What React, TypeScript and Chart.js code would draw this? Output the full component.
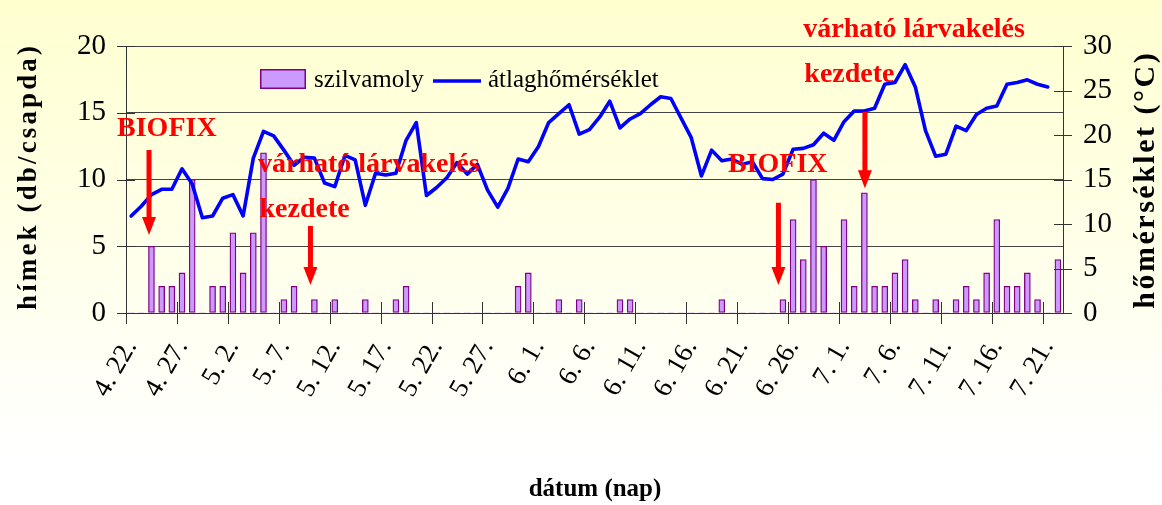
import React, { useEffect, useRef } from "react";
import { Chart, registerables } from "chart.js";

Chart.register(...registerables);

const categories = [
  "4. 22.", "4. 23.", "4. 24.", "4. 25.", "4. 26.", "4. 27.", "4. 28.", "4. 29.", "4. 30.",
  "5. 1.", "5. 2.", "5. 3.", "5. 4.", "5. 5.", "5. 6.", "5. 7.", "5. 8.", "5. 9.", "5. 10.",
  "5. 11.", "5. 12.", "5. 13.", "5. 14.", "5. 15.", "5. 16.", "5. 17.", "5. 18.", "5. 19.", "5. 20.",
  "5. 21.", "5. 22.", "5. 23.", "5. 24.", "5. 25.", "5. 26.", "5. 27.", "5. 28.", "5. 29.", "5. 30.", "5. 31.",
  "6. 1.", "6. 2.", "6. 3.", "6. 4.", "6. 5.", "6. 6.", "6. 7.", "6. 8.", "6. 9.", "6. 10.",
  "6. 11.", "6. 12.", "6. 13.", "6. 14.", "6. 15.", "6. 16.", "6. 17.", "6. 18.", "6. 19.", "6. 20.",
  "6. 21.", "6. 22.", "6. 23.", "6. 24.", "6. 25.", "6. 26.", "6. 27.", "6. 28.", "6. 29.", "6. 30.",
  "7. 1.", "7. 2.", "7. 3.", "7. 4.", "7. 5.", "7. 6.", "7. 7.", "7. 8.", "7. 9.", "7. 10.",
  "7. 11.", "7. 12.", "7. 13.", "7. 14.", "7. 15.", "7. 16.", "7. 17.", "7. 18.", "7. 19.", "7. 20.",
  "7. 21.", "7. 22."
];

// szilvamoly hímek (db/csapda)
const szilvamoly = [
  0, 0, 5, 2, 2, 3, 10, 0, 2, 2,
  6, 3, 6, 12, 0, 1, 2, 0, 1, 0,
  1, 0, 0, 1, 0, 0, 1, 2, 0, 0,
  0, 0, 0, 0, 0, 0, 0, 0, 2, 3,
  0, 0, 1, 0, 1, 0, 0, 0, 1, 1,
  0, 0, 0, 0, 0, 0, 0, 0, 1, 0,
  0, 0, 0, 0, 1, 7, 4, 10, 5, 0,
  7, 2, 9, 2, 2, 3, 4, 1, 0, 1,
  0, 1, 2, 1, 3, 7, 2, 2, 3, 1,
  0, 4
];

// átlaghőmérséklet (°C)
const atlaghomerseklet = [
  10.9, 12.0, 13.3, 13.9, 13.9, 16.2, 14.5, 10.7, 10.9, 12.9,
  13.3, 10.9, 17.4, 20.4, 19.9, 18.3, 16.6, 17.5, 17.4, 14.6,
  14.2, 17.7, 17.2, 12.1, 15.7, 15.5, 15.7, 19.4, 21.4, 13.2,
  14.1, 15.2, 16.9, 15.6, 16.7, 13.8, 11.9, 14.0, 17.3, 17.0,
  18.7, 21.4, 22.4, 23.4, 20.1, 20.6, 22.0, 23.8, 20.8, 21.8,
  22.4, 23.4, 24.3, 24.1, 21.9, 19.7, 15.4, 18.3, 17.1, 17.3,
  16.7, 17.0, 15.1, 15.0, 15.6, 18.4, 18.5, 18.9, 20.2, 19.4,
  21.5, 22.7, 22.7, 23.0, 25.7, 25.9, 27.9, 25.4, 20.5, 17.6,
  17.85, 21.0, 20.5, 22.3, 23.0, 23.25, 25.7, 25.9, 26.2, 25.7,
  25.4, null
];

const leftAxisMax = 20;
const rightAxisMax = 30;
const axisStep = 5;
const labelEvery = 5;

// annotation texts: x = category position, y = left axis value (baseline)
const noteTexts = ["BIOFIX", "várható lárvakelés", "kezdete", "BIOFIX", "várható lárvakelés", "kezdete"];
const noteX = [-1.38, 12.46, 12.61, 58.6, 66.0, 66.1];
const noteY = [13.26, 10.58, 7.21, 10.58, 20.7, 17.33];

// arrows: x = category position, from/to = left axis values
const arrowX = [1.76, 17.61, 63.56, 72.05];
const arrowFrom = [12.21, 6.52, 8.26, 15.08];
const arrowTo = [5.84, 2.1, 2.1, 9.34];

const FONT = "'Liberation Serif', 'Times New Roman', serif";

function drawFitted(ctx: CanvasRenderingContext2D, text: string, cx: number, cy: number, target: number) {
  ctx.save();
  (ctx as any).letterSpacing = "0px";
  const w = ctx.measureText(text).width;
  const n = Array.from(text).length;
  const sp = Math.max(0, (target - w) / n);
  (ctx as any).letterSpacing = sp + "px";
  ctx.translate(cx, cy);
  ctx.rotate(-Math.PI / 2);
  ctx.textAlign = "center";
  ctx.textBaseline = "middle";
  ctx.fillText(text, sp / 2, 0);
  ctx.restore();
}

const decorPlugin = {
  id: "decor",
  beforeDraw(chart: any) {
    const ctx = chart.ctx as CanvasRenderingContext2D;
    const g = ctx.createLinearGradient(0, 0, 0, chart.height);
    g.addColorStop(0, "#FFFFD0");
    g.addColorStop(0.9, "#FFFFFF");
    ctx.save();
    ctx.fillStyle = g;
    ctx.fillRect(0, 0, chart.width, chart.height);
    ctx.restore();
  },
  afterDraw(chart: any) {
    const ctx = chart.ctx as CanvasRenderingContext2D;
    const xs = chart.scales.x;
    const ys = chart.scales.y;
    const y1 = chart.scales.y1;
    const area = chart.chartArea;

    // tick marks crossing the axes
    ctx.save();
    ctx.strokeStyle = "#333";
    ctx.lineWidth = 1;
    const half = (xs.getPixelForValue(1) - xs.getPixelForValue(0)) / 2;
    ctx.beginPath();
    for (let k = 0; k < categories.length; k += labelEvery) {
      const px = Math.round(xs.getPixelForValue(k) - half) + 0.5;
      ctx.moveTo(px, area.bottom - 11);
      ctx.lineTo(px, area.bottom + 11);
    }
    for (let v = 0; v <= leftAxisMax; v += axisStep) {
      const py = Math.round(ys.getPixelForValue(v)) + 0.5;
      ctx.moveTo(area.left - 9, py);
      ctx.lineTo(area.left + 9, py);
    }
    for (let v = 0; v <= rightAxisMax; v += axisStep) {
      const py = Math.round(y1.getPixelForValue(v)) + 0.5;
      ctx.moveTo(area.right - 9, py);
      ctx.lineTo(area.right + 9, py);
    }
    ctx.stroke();
    ctx.restore();

    // legend
    const bar = chart.data.datasets[1];
    const line = chart.data.datasets[0];
    ctx.save();
    ctx.fillStyle = bar.backgroundColor;
    ctx.fillRect(260, 69, 46, 20);
    ctx.strokeStyle = bar.borderColor;
    ctx.lineWidth = 1.5;
    ctx.strokeRect(260.75, 69.75, 44.5, 18.5);
    ctx.fillStyle = "#000";
    ctx.font = `25px ${FONT}`;
    ctx.textBaseline = "alphabetic";
    ctx.textAlign = "left";
    ctx.fillText(bar.label, 314, 87);
    ctx.strokeStyle = line.borderColor;
    ctx.lineWidth = 3.5;
    ctx.beginPath();
    ctx.moveTo(433, 81);
    ctx.lineTo(481, 81);
    ctx.stroke();
    ctx.fillText(line.label, 488, 87);
    ctx.restore();

    // axis titles
    ctx.save();
    ctx.fillStyle = "#000";
    ctx.font = `bold 27px ${FONT}`;
    drawFitted(ctx, "hímek (db/csapda)", 29, 178, 267);
    ctx.font = `bold 30px ${FONT}`;
    drawFitted(ctx, "hőmérséklet (°C)", 1146, 181, 258);
    ctx.font = `bold 25px ${FONT}`;
    ctx.textAlign = "center";
    ctx.textBaseline = "middle";
    ctx.fillText("dátum (nap)", 595, 490);
    ctx.restore();

    // annotations
    ctx.save();
    ctx.fillStyle = "#FF0000";
    ctx.strokeStyle = "#FF0000";
    ctx.font = `bold 28px ${FONT}`;
    ctx.textAlign = "left";
    ctx.textBaseline = "alphabetic";
    for (let i = 0; i < noteTexts.length; i++) {
      ctx.fillText(noteTexts[i], xs.getPixelForValue(noteX[i]), ys.getPixelForValue(noteY[i]));
    }
    for (let i = 0; i < arrowX.length; i++) {
      const px = xs.getPixelForValue(arrowX[i]);
      const top = ys.getPixelForValue(arrowFrom[i]);
      const tip = ys.getPixelForValue(arrowTo[i]);
      const headLen = 18;
      ctx.lineWidth = 5;
      ctx.beginPath();
      ctx.moveTo(px, top);
      ctx.lineTo(px, tip - headLen + 2);
      ctx.stroke();
      ctx.beginPath();
      ctx.moveTo(px - 7, tip - headLen);
      ctx.lineTo(px + 7, tip - headLen);
      ctx.lineTo(px, tip);
      ctx.closePath();
      ctx.fill();
    }
    ctx.restore();
  },
};

export default function App() {
  const ref = useRef<HTMLCanvasElement>(null);
  useEffect(() => {
    document.body.style.margin = "0";
    const canvas = ref.current!;
    const chart = new Chart(canvas, {
      type: "bar",
      data: {
        labels: categories,
        datasets: [
          {
            type: "line",
            label: "átlaghőmérséklet",
            data: atlaghomerseklet,
            yAxisID: "y1",
            borderColor: "#0000FF",
            backgroundColor: "#0000FF",
            borderWidth: 3.6,
            pointRadius: 0,
            tension: 0,
            borderJoinStyle: "round",
            borderCapStyle: "round",
            order: 0,
          } as any,
          {
            type: "bar",
            label: "szilvamoly",
            data: szilvamoly,
            yAxisID: "y",
            backgroundColor: "#CC99FF",
            borderColor: "#800080",
            borderWidth: (c: any) => (c.raw ? 1.3 : 0),
            barThickness: 6,
            borderSkipped: false,
            order: 1,
          } as any,
        ],
      },
      options: {
        responsive: false,
        animation: false,
        layout: { padding: { top: 46, left: 0, right: 0, bottom: 0 } },
        plugins: {
          legend: { display: false },
          tooltip: { enabled: false },
        },
        scales: {
          x: {
            type: "category",
            offset: true,
            grid: { display: false, offset: true },
            border: { display: true, color: "#333", width: 1 },
            ticks: {
              autoSkip: false,
              minRotation: 60,
              maxRotation: 60,
              padding: 13,
              color: "#000",
              font: { family: FONT, size: 27 },
              callback: function (this: any, value: any, index: number) {
                return index % labelEvery === 0 ? this.getLabelForValue(value) : "";
              },
            },
            afterFit: (s: any) => {
              s.height = 192;
            },
          },
          y: {
            position: "left",
            min: 0,
            max: leftAxisMax,
            ticks: {
              stepSize: axisStep,
              padding: 20,
              color: "#000",
              font: { family: FONT, size: 29 },
            },
            grid: { color: "#444", drawTicks: false, tickLength: 0 },
            border: { display: true, color: "#333", width: 1 },
            afterFit: (s: any) => {
              s.width = 126;
            },
          },
          y1: {
            position: "right",
            min: 0,
            max: rightAxisMax,
            ticks: {
              stepSize: axisStep,
              padding: 20,
              color: "#000",
              font: { family: FONT, size: 29 },
            },
            grid: { display: false, drawTicks: false, tickLength: 0 },
            border: { display: true, color: "#333", width: 1 },
            afterFit: (s: any) => {
              s.width = 99;
            },
          },
        },
      },
      plugins: [decorPlugin],
    });
    return () => chart.destroy();
  }, []);
  return (
    <div style={{ width: 1162, height: 505 }}>
      <canvas ref={ref} width={1162} height={505} style={{ display: "block" }} />
    </div>
  );
}
